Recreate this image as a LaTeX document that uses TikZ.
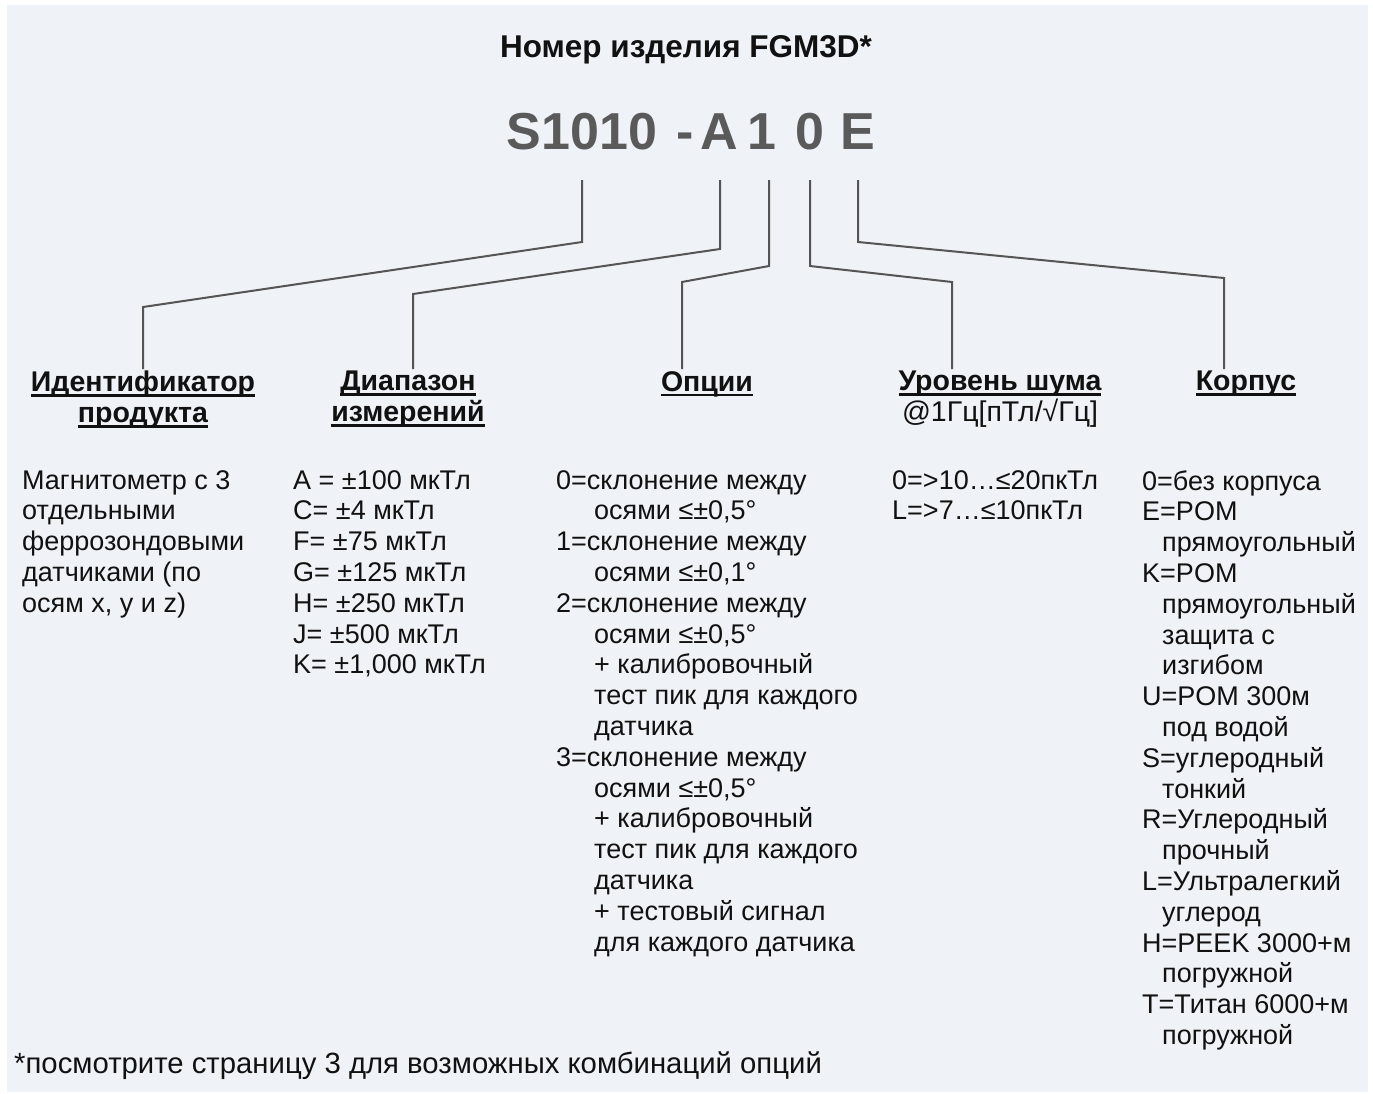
\documentclass[tikz,border=0pt]{standalone}
\usepackage{fontspec}
\setmainfont{Liberation Sans}
\usetikzlibrary{calc, positioning}
\definecolor{panel}{RGB}{239,242,247}
\definecolor{codegray}{RGB}{90,90,90}
\definecolor{linkgray}{RGB}{85,85,85}
\definecolor{ink}{RGB}{17,17,17}
\newcommand{\ind}{\hspace*{38pt}}
\newcommand{\indc}{\hspace*{20pt}}
\newcommand{\hul}[1]{\setbox0\hbox{#1}\rlap{\vrule height -2.4pt depth 5.2pt width \wd0}\box0}

\begin{document}
\begin{tikzpicture}[
    x=1pt, y=-1pt,
    every node/.style={text=ink, inner sep=0pt},
    titlebox/.style={font=\fontsize{31.5}{36}\selectfont\bfseries},
    codepart/.style={font=\fontsize{52}{60}\selectfont\bfseries, text=codegray,
                     anchor=base, text depth=0pt, outer xsep=0pt, outer ysep=31pt},
    head/.style={font=\fontsize{28.5}{31}\selectfont\bfseries, align=center, anchor=north},
    body/.style={font=\fontsize{27}{30.8}\selectfont, align=left, anchor=north west},
    link/.style={draw=linkgray, line width=2pt},
]
\useasboundingbox (0,0) rectangle (1373,1093);
\fill[white] (0,0) rectangle (1373,1093);
\fill[panel] (7,5) rectangle (1368,1092);
% title and part number
\node[titlebox, anchor=base] (title) at (686,57) {Номер изделия FGM3D*};
\node[codepart] (s)    at (582,149) {S1010};
\node[codepart] (dash) at (685,149) {-};
\node[codepart] (a)    at (719,149) {A};
\node[codepart] (one)  at (762,149) {1};
\node[codepart] (zero) at (810,149) {0};
\node[codepart] (e)    at (858,149) {E};
% column headings
\node[head] (hid)    at (143,371)  {\hul{Идентификатор}\\\hul{продукта}};
\node[head] (hrange) at (408,371)  {\hul{Диапазон}\\\hul{измерений}};
\node[head] (hopt)   at (707,371)  {\hul{Опции}};
\node[head] (hnoise) at (1000,371) {\hul{Уровень шума}\\\mdseries @1Гц[пТл/√Гц]};
\node[head] (hcase)  at (1246,371) {\hul{Корпус}};
% connectors
\draw[link] (s.south) -- ++(0,62) -- ($(hid.north)+(0,-64)$) -- ++(0,62);
\draw[link] ([xshift=1pt]a.south) -- ++(0,69) -- ($(hrange.north)+(5,-77)$) -- ++(0,75);
\draw[link] ([xshift=7pt]one.south) -- ++(0,86) -- ($(hopt.north)+(-25,-89)$) -- ++(0,87);
\draw[link] (zero.south) -- ++(0,86) -- ($(hnoise.north)+(-48,-89)$) -- ++(0,87);
\draw[link] (e.south) -- ++(0,62) -- ($(hcase.north)+(-22,-93)$) -- ++(0,91);
% column texts
\node[body] (tid) at (22,470) {Магнитометр с 3\\отдельными\\феррозондовыми\\датчиками (по\\осям x, y и z)};
\node[body] (trange) at (293,470) {A = ±100 мкТл\\C= ±4 мкТл\\F= ±75 мкТл\\G= ±125 мкТл\\H= ±250 мкТл\\J= ±500 мкТл\\K= ±1,000 мкТл};
\node[body] (topt) at (556,470) {0=склонение между\\\ind осями ≤±0,5°\\1=склонение между\\\ind осями ≤±0,1°\\2=склонение между\\\ind осями ≤±0,5°\\\ind + калибровочный\\\ind тест пик для каждого\\\ind датчика\\3=склонение между\\\ind осями ≤±0,5°\\\ind + калибровочный\\\ind тест пик для каждого\\\ind датчика\\\ind + тестовый сигнал\\\ind для каждого датчика};
\node[body] (tnoise) at (892,470) {0=>10…≤20пкТл\\L=>7…≤10пкТл};
\node[body] (tcase) at (1142,470) {0=без корпуса\\E=POM\\\indc прямоугольный\\K=POM\\\indc прямоугольный\\\indc защита с\\\indc изгибом\\U=POM 300м\\\indc под водой\\S=углеродный\\\indc тонкий\\R=Углеродный\\\indc прочный\\L=Ультралегкий\\\indc углерод\\H=PEEK 3000+м\\\indc погружной\\T=Титан 6000+м\\\indc погружной};
% footnote
\node[font=\fontsize{29.3}{30}\selectfont, anchor=base west] (note) at (14,1073) {*посмотрите страницу 3 для возможных комбинаций опций};
\end{tikzpicture}
\end{document}
